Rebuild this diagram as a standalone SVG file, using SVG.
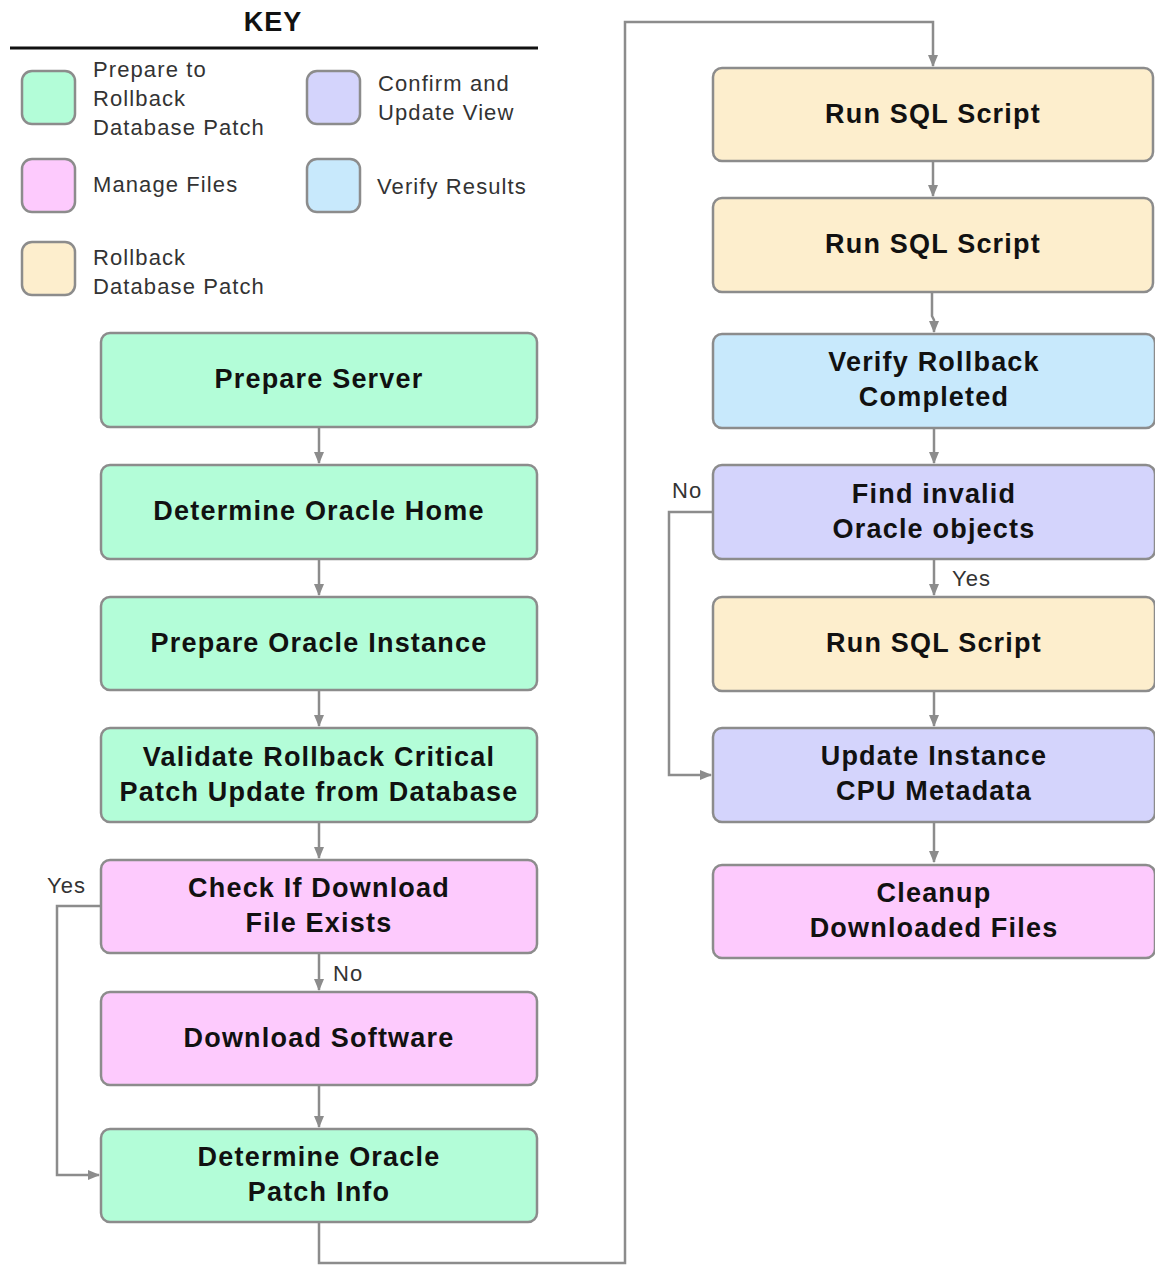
<svg xmlns="http://www.w3.org/2000/svg" width="1155" height="1265" viewBox="0 0 1155 1265">
<style>
.box{stroke:#8c8c8c;stroke-width:2.5}
.g{fill:#b3fdd8}.p{fill:#fdcafd}.o{fill:#fdeecd}.b{fill:#c8e9fc}.v{fill:#d4d4fc}
.t{font-family:"Liberation Sans",Arial,sans-serif;font-weight:bold;font-size:27px;letter-spacing:1.2px;fill:#111;text-anchor:middle}
.k{font-family:"Liberation Sans",Arial,sans-serif;font-size:22px;letter-spacing:1.1px;fill:#333}
.l{font-family:"Liberation Sans",Arial,sans-serif;font-size:22px;letter-spacing:1px;fill:#333}
.c{fill:none;stroke:#8c8c8c;stroke-width:2.5}
</style>
<defs>
<marker id="a" markerWidth="12" markerHeight="10" refX="11" refY="5" orient="auto" markerUnits="userSpaceOnUse">
<path d="M0,0 L12,5 L0,10 Z" fill="#8c8c8c"/>
</marker>
</defs>
<g id="key">
<text x="273" y="31" font-family="Liberation Sans,Arial,sans-serif" font-weight="bold" font-size="27" letter-spacing="1" text-anchor="middle" fill="#111">KEY</text>
<line x1="10" y1="48" x2="538" y2="48" stroke="#111" stroke-width="3"/>
<rect class="box g" x="22" y="71" width="53" height="53" rx="10"/>
<rect class="box p" x="22" y="159" width="53" height="53" rx="10"/>
<rect class="box o" x="22" y="242" width="53" height="53" rx="10"/>
<rect class="box v" x="307" y="71" width="53" height="53" rx="10"/>
<rect class="box b" x="307" y="159" width="53" height="53" rx="10"/>
<text class="k" x="93" y="77">Prepare to</text>
<text class="k" x="93" y="106">Rollback</text>
<text class="k" x="93" y="135">Database Patch</text>
<text class="k" x="93" y="192">Manage Files</text>
<text class="k" x="93" y="265">Rollback</text>
<text class="k" x="93" y="294">Database Patch</text>
<text class="k" x="378" y="91">Confirm and</text>
<text class="k" x="378" y="120">Update View</text>
<text class="k" x="377" y="194">Verify Results</text>
</g>
<g id="connectors">
<path class="c" d="M319,427 V463" marker-end="url(#a)"/>
<path class="c" d="M319,559 V595" marker-end="url(#a)"/>
<path class="c" d="M319,690 V726" marker-end="url(#a)"/>
<path class="c" d="M319,822 V858" marker-end="url(#a)"/>
<path class="c" d="M319,953 V990" marker-end="url(#a)"/>
<path class="c" d="M319,1085 V1127" marker-end="url(#a)"/>
<path class="c" d="M101,906 H57 V1175 H99" marker-end="url(#a)"/>
<path class="c" d="M319,1222 V1263 H625 V22 H933 V66" marker-end="url(#a)"/>
<path class="c" d="M933,161 V196" marker-end="url(#a)"/>
<path class="c" d="M932,292 V316 L934,320 V332" marker-end="url(#a)"/>
<path class="c" d="M934,428 V463" marker-end="url(#a)"/>
<path class="c" d="M934,559 V595" marker-end="url(#a)"/>
<path class="c" d="M934,691 V726" marker-end="url(#a)"/>
<path class="c" d="M713,512 H669 V775 H711" marker-end="url(#a)"/>
<path class="c" d="M934,822 V862" marker-end="url(#a)"/>
<text class="l" x="47" y="893">Yes</text>
<text class="l" x="333" y="981">No</text>
<text class="l" x="672" y="498">No</text>
<text class="l" x="952" y="586">Yes</text>
</g>
<g id="n1"><rect class="box g" x="101" y="333" width="436" height="94" rx="9"/><text class="t" x="319" y="388">Prepare Server</text></g>
<g id="n2"><rect class="box g" x="101" y="465" width="436" height="94" rx="9"/><text class="t" x="319" y="520">Determine Oracle Home</text></g>
<g id="n3"><rect class="box g" x="101" y="597" width="436" height="93" rx="9"/><text class="t" x="319" y="652">Prepare Oracle Instance</text></g>
<g id="n4"><rect class="box g" x="101" y="728" width="436" height="94" rx="9"/><text class="t" x="319" y="766">Validate Rollback Critical</text><text class="t" x="319" y="801">Patch Update from Database</text></g>
<g id="n5"><rect class="box p" x="101" y="860" width="436" height="93" rx="9"/><text class="t" x="319" y="897">Check If Download</text><text class="t" x="319" y="932">File Exists</text></g>
<g id="n6"><rect class="box p" x="101" y="992" width="436" height="93" rx="9"/><text class="t" x="319" y="1047">Download Software</text></g>
<g id="n7"><rect class="box g" x="101" y="1129" width="436" height="93" rx="9"/><text class="t" x="319" y="1166">Determine Oracle</text><text class="t" x="319" y="1201">Patch Info</text></g>
<g id="r1"><rect class="box o" x="713" y="68" width="440" height="93" rx="9"/><text class="t" x="933" y="123">Run SQL Script</text></g>
<g id="r2"><rect class="box o" x="713" y="198" width="440" height="94" rx="9"/><text class="t" x="933" y="253">Run SQL Script</text></g>
<g id="r3"><rect class="box b" x="713" y="334" width="442" height="94" rx="9"/><text class="t" x="934" y="371">Verify Rollback</text><text class="t" x="934" y="406">Completed</text></g>
<g id="r4"><rect class="box v" x="713" y="465" width="442" height="94" rx="9"/><text class="t" x="934" y="503">Find invalid</text><text class="t" x="934" y="538">Oracle objects</text></g>
<g id="r5"><rect class="box o" x="713" y="597" width="442" height="94" rx="9"/><text class="t" x="934" y="652">Run SQL Script</text></g>
<g id="r6"><rect class="box v" x="713" y="728" width="442" height="94" rx="9"/><text class="t" x="934" y="765">Update Instance</text><text class="t" x="934" y="800">CPU Metadata</text></g>
<g id="r7"><rect class="box p" x="713" y="865" width="442" height="93" rx="9"/><text class="t" x="934" y="902">Cleanup</text><text class="t" x="934" y="937">Downloaded Files</text></g>
</svg>
